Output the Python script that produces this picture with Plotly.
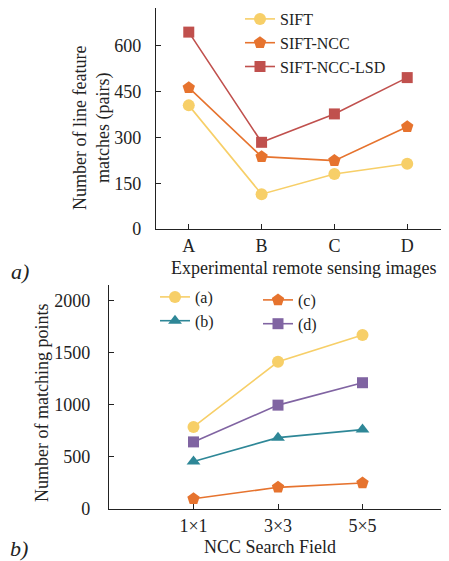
import plotly.graph_objects as go

# ---- data: chart a) ----
images = ["A", "B", "C", "D"]
sift = [405, 114, 180, 214]
sift_ncc = [463, 237, 224, 335]
sift_ncc_lsd = [645, 284, 377, 496]

# ---- data: chart b) ----
fields = ["1×1", "3×3", "5×5"]
series_a = [788, 1413, 1670]
series_b = [455, 685, 762]
series_c = [98, 208, 250]
series_d = [644, 997, 1212]

# page body has an 8px margin, so the figure is drawn 8px smaller and
# positions are given in page pixels minus that offset
OFF = 8
W, H = 449 - OFF, 561 - OFF
FONT = "Liberation Serif"

YEL = "#F7CF68"
ORG = "#E6732E"
RED = "#C0504D"
TEAL = "#2E8797"
PUR = "#8064A2"


def px(x):
    return (x - OFF) / W


def py(y):
    return 1 - (y - OFF) / H


fig = go.Figure()


def add(x, y, name, color, symbol, xa, ya, legend, size=11):
    fig.add_trace(go.Scatter(
        x=x, y=y, name=name, mode="lines+markers",
        line=dict(color=color, width=1.6),
        marker=dict(color=color, symbol=symbol, size=size, line=dict(width=0)),
        xaxis=xa, yaxis=ya, legend=legend,
    ))


add(images, sift, "SIFT", YEL, "circle", "x", "y", "legend", 12)
add(images, sift_ncc, "SIFT-NCC", ORG, "pentagon", "x", "y", "legend", 13)
add(images, sift_ncc_lsd, "SIFT-NCC-LSD", RED, "square", "x", "y", "legend", 11)

add(fields, series_a, "(a)", YEL, "circle", "x2", "y2", "legend2", 12)
add(fields, series_b, "(b)", TEAL, "triangle-up", "x2", "y2", "legend2", 12)
add(fields, series_c, "(c)", ORG, "pentagon", "x2", "y2", "legend3", 13)
add(fields, series_d, "(d)", PUR, "square", "x2", "y2", "legend3", 11)

axis_common = dict(
    showline=True, linecolor="#222", linewidth=1.3, showgrid=False,
    zeroline=False, ticks="inside", ticklen=5, tickcolor="#222", tickwidth=1.2,
    tickfont=dict(family=FONT, size=18, color="#222"), mirror=False,
)

leg_common = dict(xanchor="left", yanchor="top", bgcolor="rgba(0,0,0,0)",
                  font=dict(family=FONT, size=16, color="#222"),
                  tracegroupgap=0)

fig.update_layout(
    width=W, height=H,
    margin=dict(l=0, r=0, t=0, b=0, autoexpand=False),
    paper_bgcolor="white", plot_bgcolor="white",
    font=dict(family=FONT, size=18, color="#222"),
    xaxis=dict(axis_common, domain=[px(156), px(448)], anchor="y",
               type="category", range=[-0.45, 3.56]),
    yaxis=dict(axis_common, domain=[py(229), py(8)], anchor="x",
               range=[0, 724], tickvals=[0, 150, 300, 450, 600],
               ticklabelstandoff=10),
    xaxis2=dict(axis_common, domain=[px(109), px(447)], anchor="y2",
                type="category", range=[-1, 3]),
    yaxis2=dict(axis_common, domain=[py(509), py(285)], anchor="x2",
                range=[0, 2150], tickvals=[0, 500, 1000, 1500, 2000],
                ticklabelstandoff=14),
    legend=dict(leg_common, x=px(240), y=py(2)),
    legend2=dict(leg_common, x=px(155), y=py(280)),
    legend3=dict(leg_common, x=px(258), y=py(283)),
    showlegend=True,
)

ann = [
    dict(text="Number of line feature<br>matches (pairs)", x=px(92), y=py(128),
         textangle=-90),
    dict(text="Experimental remote sensing images", x=px(303), y=py(268)),
    dict(text="Number of matching points", x=px(42), y=py(403), textangle=-90),
    dict(text="NCC Search Field", x=px(270), y=py(547)),
    dict(text="<i>a)</i>", x=px(20), y=py(271), size=22),
    dict(text="<i>b)</i>", x=px(19), y=py(548), size=22),
]
for a in ann:
    size = a.pop("size", 18)
    fig.add_annotation(xref="paper", yref="paper", xanchor="center",
                       yanchor="middle", showarrow=False,
                       font=dict(family=FONT, size=size, color="#222"), **a)

fig.write_html("out.html")
